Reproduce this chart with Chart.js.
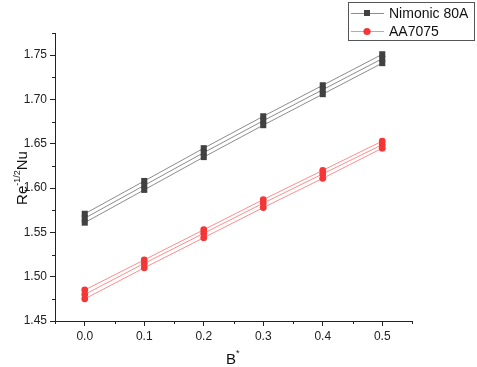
<!DOCTYPE html>
<html>
<head>
<meta charset="utf-8">
<script src="https://cdn.jsdelivr.net/npm/chart.js"></script>
<style>
  html, body { margin: 0; padding: 0; background: #fff; }
  #wrap { width: 477px; height: 367px; }
</style>
</head>
<body>
<div id="wrap"><canvas id="chart" width="477" height="367"></canvas></div>
<script>
// values
const bValues = [0.0, 0.1, 0.2, 0.3, 0.4, 0.5];
const nimonicA = [1.561, 1.598, 1.635, 1.671, 1.706, 1.741];
const nimonicB = [1.566, 1.603, 1.640, 1.676, 1.711, 1.746];
const nimonicC = [1.571, 1.608, 1.645, 1.681, 1.716, 1.751];
const aaA = [1.475, 1.510, 1.544, 1.578, 1.611, 1.645];
const aaB = [1.480, 1.515, 1.549, 1.583, 1.616, 1.649];
const aaC = [1.485, 1.519, 1.553, 1.587, 1.620, 1.653];
const seriesNames = ["Nimonic 80A", "AA7075"];

const FONT = "'Liberation Sans', Arial, sans-serif";
const AXIS = "#222";

function pts(ys) {
  return bValues.map((b, i) => ({ x: b, y: ys[i] }));
}

function nimSet(ys, name) {
  return {
    label: name, data: pts(ys),
    borderColor: "#8c8c8c", borderWidth: 1,
    pointStyle: "rect", pointRadius: 4.3, pointBorderWidth: 0,
    pointBackgroundColor: "#414141", pointBorderColor: "#414141"
  };
}
function aaSet(ys, name) {
  return {
    label: name, data: pts(ys),
    borderColor: "#ff8c8c", borderWidth: 1,
    pointStyle: "circle", pointRadius: 3.4, pointBorderWidth: 0,
    pointBackgroundColor: "#f53636", pointBorderColor: "#f53636"
  };
}

function yMajor(v) { return Math.round(v * 1000) % 50 === 0; }
function xMajor(v) { return Math.round(v * 100) % 10 === 0; }

// minor ticks, axis titles with superscripts and the boxed legend
const extras = {
  id: "extras",
  afterDraw(chart) {
    const ctx = chart.ctx;
    const xs = chart.scales.x, ys = chart.scales.y;
    const area = chart.chartArea;
    ctx.save();
    ctx.strokeStyle = AXIS;
    ctx.lineWidth = 1;
    ctx.beginPath();
    ys.ticks.forEach(t => {
      if (!yMajor(t.value)) {
        const p = Math.round(ys.getPixelForValue(t.value)) + 0.5;
        ctx.moveTo(area.left - 3, p); ctx.lineTo(area.left, p);
      }
    });
    xs.ticks.forEach(t => {
      if (!xMajor(t.value)) {
        const p = Math.round(xs.getPixelForValue(t.value)) + 0.5;
        ctx.moveTo(p, area.bottom); ctx.lineTo(p, area.bottom + 3);
      }
    });
    ctx.stroke();

    // y title
    ctx.fillStyle = "#111";
    ctx.textBaseline = "alphabetic";
    ctx.translate(27, 178);
    ctx.rotate(-Math.PI / 2);
    ctx.font = "15px " + FONT;
    const w1 = ctx.measureText("Re").width;
    ctx.font = "9px " + FONT;
    const w2 = ctx.measureText("-1/2").width;
    ctx.font = "15px " + FONT;
    const w3 = ctx.measureText("Nu").width;
    let x0 = -(w1 + w2 + w3) / 2;
    ctx.fillText("Re", x0, 0);
    ctx.font = "9px " + FONT;
    ctx.fillText("-1/2", x0 + w1, -7);
    ctx.font = "15px " + FONT;
    ctx.fillText("Nu", x0 + w1 + w2, 0);
    ctx.setTransform(1, 0, 0, 1, 0, 0);

    // x title
    ctx.font = "15px " + FONT;
    ctx.fillText("B", 226, 364);
    ctx.font = "9px " + FONT;
    ctx.fillText("*", 236, 356);

    // legend
    ctx.strokeStyle = "#555";
    ctx.strokeRect(348.5, 2.5, 126, 38);
    const rows = [
      { y: 13, line: "#8c8c8c", fill: "#414141", rect: true },
      { y: 31, line: "#ff8c8c", fill: "#f53636", rect: false }
    ];
    rows.forEach((r, i) => {
      ctx.strokeStyle = r.line;
      ctx.beginPath();
      ctx.moveTo(351, r.y + 0.5); ctx.lineTo(384, r.y + 0.5);
      ctx.stroke();
      ctx.fillStyle = r.fill;
      if (r.rect) {
        ctx.fillRect(364, r.y - 3, 6, 6);
      } else {
        ctx.beginPath();
        ctx.arc(367, r.y + 0.5, 3.6, 0, Math.PI * 2);
        ctx.fill();
      }
      ctx.fillStyle = "#111";
      ctx.font = "14px " + FONT;
      ctx.textBaseline = "middle";
      ctx.fillText(seriesNames[i], 389, r.y + 1);
    });
    ctx.restore();
  }
};

new Chart(document.getElementById("chart"), {
  type: "line",
  data: {
    datasets: [
      nimSet(nimonicA, seriesNames[0]), nimSet(nimonicB, seriesNames[0]), nimSet(nimonicC, seriesNames[0]),
      aaSet(aaA, seriesNames[1]), aaSet(aaB, seriesNames[1]), aaSet(aaC, seriesNames[1])
    ]
  },
  options: {
    responsive: false,
    animation: false,
    layout: { autoPadding: false, padding: { top: 33, right: 65, left: 0, bottom: 0 } },
    plugins: { legend: { display: false }, tooltip: { enabled: false } },
    scales: {
      x: {
        type: "linear", min: -0.05, max: 0.55,
        afterFit: s => { s.height = 46; },
        border: { color: AXIS, width: 1 },
        grid: {
          drawOnChartArea: false, tickLength: 5,
          tickColor: c => xMajor(c.tick.value) ? AXIS : "transparent"
        },
        ticks: {
          stepSize: 0.05, padding: 3, color: "#222", maxRotation: 0, autoSkip: false,
          font: { family: FONT, size: 12 },
          callback: v => xMajor(v) ? v.toFixed(1) : ""
        }
      },
      y: {
        min: 1.45, max: 1.775,
        afterFit: s => { s.width = 55; },
        border: { color: AXIS, width: 1 },
        grid: {
          drawOnChartArea: false, tickLength: 5,
          tickColor: c => yMajor(c.tick.value) ? AXIS : "transparent"
        },
        ticks: {
          stepSize: 0.025, padding: 3, color: "#222", autoSkip: false,
          font: { family: FONT, size: 12 },
          callback: v => yMajor(v) ? v.toFixed(2) : ""
        }
      }
    }
  },
  plugins: [extras]
});
</script>
</body>
</html>
